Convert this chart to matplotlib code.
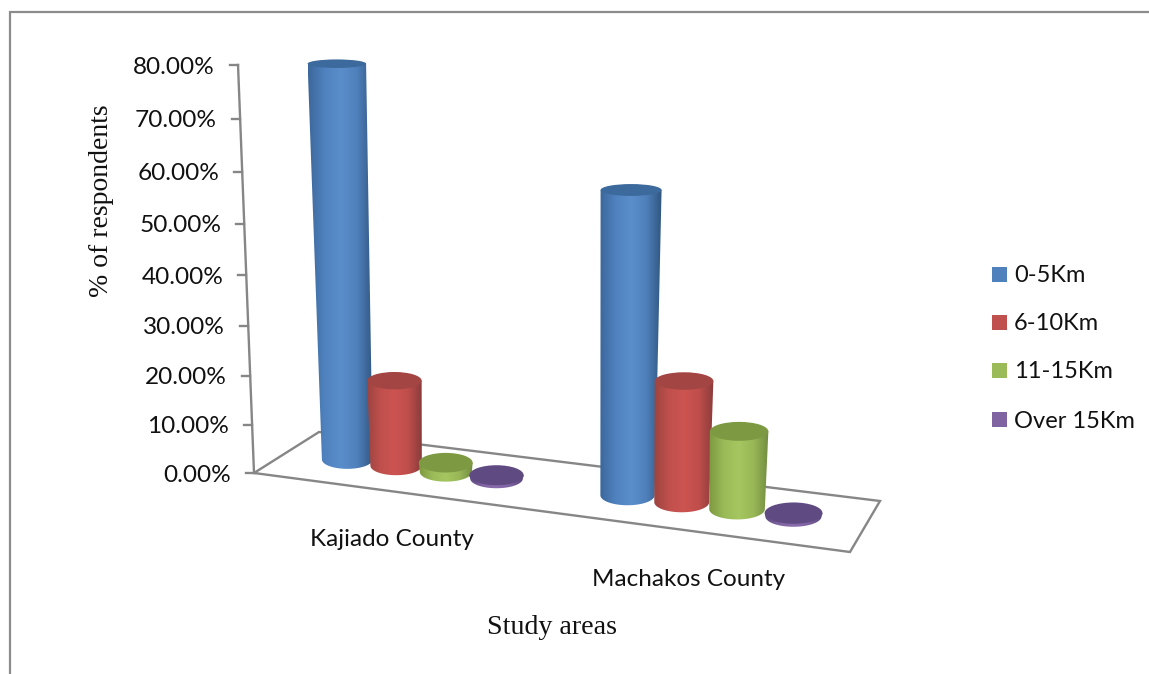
"""
3D cylinder chart of distance travelled by respondents in two counties
"""
import numpy as np
import matplotlib
matplotlib.use('Agg')
import matplotlib.pyplot as plt
from matplotlib.colors import LinearSegmentedColormap
from matplotlib.patches import Ellipse, PathPatch, Rectangle
from matplotlib.path import Path

counties = ['Kajiado County', 'Machakos County']
distances = ['0-5Km', '6-10Km', '11-15Km', 'Over 15Km']
kajiado_pct = [80.0, 18.0, 2.0, 0.7]
machakos_pct = [62.5, 25.5, 16.5, 0.7]
pct_ticks = [0, 10, 20, 30, 40, 50, 60, 70, 80]

body_colors = [
    ['#3c679b', '#4f82bf', '#5a8ecb', '#4f80bb', '#30567f'],
    ['#9c4440', '#c0504d', '#cc5451', '#bf4e4b', '#8a3c3c'],
    ['#7d9940', '#9bbb59', '#a5c660', '#98b757', '#718c3f'],
    ['#5f4a80', '#8064a2', '#8a6cad', '#7d62a0', '#59467a'],
]
cap_colors = ['#3d6a9c', '#a34543', '#7d9a43', '#5f4a82']
legend_colors = ['#4f81bd', '#c0504d', '#9bbb59', '#8064a2']

GRID = '#868686'
FLOOR = np.array([[254, 473], [850, 552], [880, 501], [319, 432]], float)


def floor_homography():
    # unit square (u along the categories, w into the depth) -> floor corners
    src = [(0, 0), (1, 0), (1, 1), (0, 1)]
    a, b = [], []
    for (u, w), (x, y) in zip(src, FLOOR):
        a.append([u, w, 1, 0, 0, 0, -u * x, -w * x])
        a.append([0, 0, 0, u, w, 1, -u * y, -w * y])
        b += [x, y]
    h = np.linalg.solve(np.array(a, float), np.array(b, float))
    return np.append(h, 1).reshape(3, 3)


H = floor_homography()


def on_floor(u, w):
    p = H @ np.array([u, w, 1.0])
    return p[0] / p[2], p[1] / p[2]


def rise(v):
    # pixel height of a value on the back wall, growing toward the viewer
    return 4.8 * v + 0.00375 * v ** 2


def lean(x, h):
    return h * (x - 542) * 0.000136


def wall_point(v):
    h = rise(v)
    return FLOOR[0][0] + lean(FLOOR[0][0], h), FLOOR[0][1] - h


def draw_cylinder(ax, u, v, series):
    bx, by = on_floor(u, 0.5)
    h = rise(v) * 0.97
    tx, ty = bx + lean(bx, h), by - h
    base_a = 25.0 + 3.5 * u
    top_a = base_a * (1 + v * 0.0015) + 0.8
    base_b = base_a * 0.37
    top_b = top_a * (0.37 - 0.0028 * v)

    t = np.linspace(0, np.pi, 40)
    lower = np.column_stack([bx - base_a * np.cos(t), by + base_b * np.sin(t)])
    verts = np.vstack([[(tx - top_a, ty)], lower, [(tx + top_a, ty)], [(tx - top_a, ty)]])
    codes = [Path.MOVETO] + [Path.LINETO] * (len(verts) - 2) + [Path.CLOSEPOLY]
    outline = PathPatch(Path(verts, codes), fc='none', ec='none')
    ax.add_patch(outline)

    # horizontal shading clipped to the cylinder side
    cmap = LinearSegmentedColormap.from_list('side', body_colors[series])
    x0 = min(tx - top_a, bx - base_a)
    x1 = max(tx + top_a, bx + base_a)
    shade = np.linspace(0, 1, 128).reshape(1, -1)
    img = ax.imshow(shade, cmap=cmap, aspect='auto', interpolation='bilinear',
                    extent=(x0, x1, by + base_b + 1, ty - 1), zorder=2 + u)
    img.set_clip_path(outline)

    ax.add_patch(Ellipse((tx, ty), 2 * top_a, 2 * top_b, fc=cap_colors[series],
                         ec='none', zorder=2 + u + 0.001))


fig = plt.figure(figsize=(11.49, 6.74), dpi=100)
ax = fig.add_axes([0, 0, 1, 1])
ax.axis('off')

# outer frame, open on the right and at the bottom
ax.plot([9.5, 9.5, 1149], [674, 12, 12], color='#8c8c8c', lw=1.6, zorder=1, solid_joinstyle='miter')

# floor and value axis
ax.add_patch(plt.Polygon(FLOOR, closed=True, fc='white', ec=GRID, lw=1.7, zorder=1))
axis_pts = np.array([wall_point(v) for v in pct_ticks])
ax.plot(axis_pts[:, 0], axis_pts[:, 1], color=GRID, lw=1.7, zorder=1)
for v, (x, y) in zip(pct_ticks, axis_pts):
    ax.plot([x - 8, x], [y, y], color=GRID, lw=1.7, zorder=1)
    ax.text(x - 23, y + 2, f'{v:.2f}%', ha='right', va='center', family='Lato', fontsize=17.6, color='#111111')

# cylinders, one gap-and-a-half between the two groups
gap = 1.5
for c, values in enumerate([kajiado_pct, machakos_pct]):
    for s, v in enumerate(values):
        u = (c + (s + 0.5 + gap / 2) / (len(distances) + gap)) / len(counties)
        draw_cylinder(ax, u, v, s)

# category labels, stepping down with the floor
for name, x, y in zip(counties, [392, 689], [539, 580]):
    ax.text(x, y, name, ha='center', va='center', family='Lato', fontsize=17.5, color='#111111')

ax.text(552, 628, 'Study areas', ha='center', va='center', family='Liberation Serif', fontsize=20.2, color='#111111')
ax.text(102, 200.5, '% of respondents', ha='center', va='center', rotation=90,
        family='Liberation Serif', fontsize=20, color='#111111')

for name, color, y in zip(distances, legend_colors, [274.5, 322.5, 370.5, 419.5]):
    ax.add_patch(Rectangle((992, y - 7.5), 15, 15, fc=color, ec='none'))
    ax.text(1014, y + 1.5, name, ha='left', va='center', family='Lato', fontsize=17, color='#111111')

ax.set_xlim(0, 1149)
ax.set_ylim(674, 0)
fig.savefig('out.png', dpi=100)
